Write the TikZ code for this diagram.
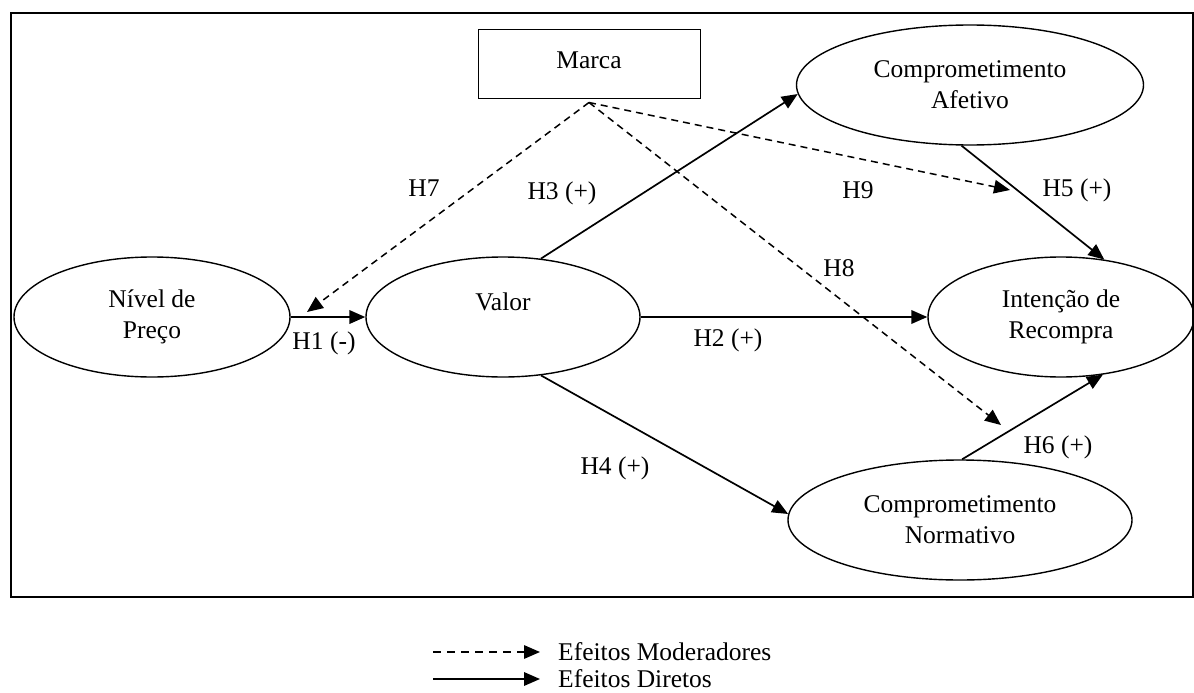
\documentclass[tikz,border=0pt]{standalone}
\usepackage{fontspec}
\setmainfont{Liberation Serif}
\usetikzlibrary{shapes.geometric,arrows.meta}
\begin{document}
\begin{tikzpicture}[x=1pt,y=-1pt,
  every node/.style={font=\fontsize{25.5}{31}\selectfont},
  oval/.style={draw, ellipse, line width=1.4pt, inner sep=0pt, align=center},
  lbl/.style={inner sep=0pt},
  tipstyle/.style={-{Triangle[length=16pt,width=13.5pt]}},
  direct/.style={tipstyle, line width=1.7pt},
  moder/.style={tipstyle, line width=1.5pt, dash pattern=on 7pt off 5pt},
]
\useasboundingbox (0,0) rectangle (1194,693);
\draw[line width=1.8pt] (11,13) rectangle (1193,597);

% nodes
\node[draw, line width=1pt, minimum width=222pt, minimum height=68pt, inner sep=0pt, text depth=8pt] (marca) at (589,64) {Marca};
\node[oval, minimum width=276pt, minimum height=120pt] (niv) at (152,317) {Nível de\\Preço};
\node[oval, minimum width=274pt, minimum height=120pt] (valor) at (503,317) {Valor\\\mbox{}};
\node[oval, minimum width=347pt, minimum height=120pt] (afe) at (970,85) {Comprometimento\\Afetivo};
\node[oval, minimum width=266pt, minimum height=120pt] (int) at (1061,317) {Intenção de\\Recompra};
\node[oval, minimum width=344pt, minimum height=120pt] (norm) at (960,520) {Comprometimento\\Normativo};

% direct effects
\draw[direct, line width=2.2pt] (niv.east) -- (valor.west);
\draw[direct, line width=2pt] (valor.east) -- (int.west);
\draw[direct] (valor.57) -- (afe.183);
\draw[direct] (valor.-57) -- (norm.178);
\draw[direct] (afe.262) -- (int.53);
\draw[direct] (norm.88) -- (int.-54);

% moderating effects
\coordinate (m0) at ([yshift=-4pt]marca.south);
\coordinate (h7e) at (307,312);
\coordinate (h8e) at (1001,425);
\coordinate (h9e) at (1010,190);
\draw[moder] (m0) -- (h7e);
\draw[moder] (m0) -- (h8e);
\draw[moder] (m0) -- (h9e);

% labels
\node[lbl] (l1) at (324,343) {H1 (-)};
\node[lbl] (l2) at (728,340) {H2 (+)};
\node[lbl] (l3) at (562,193) {H3 (+)};
\node[lbl] (l4) at (615,468) {H4 (+)};
\node[lbl] (l5) at (1077,190) {H5 (+)};
\node[lbl] (l6) at (1058,447) {H6 (+)};
\node[lbl] (l7) at (424,188) {H7};
\node[lbl] (l8) at (839,268) {H8};
\node[lbl] (l9) at (858,190) {H9};

% legend
\node[lbl, anchor=west] (leg1) at (558,652) {Efeitos Moderadores};
\node[lbl, anchor=west] (leg2) at (558,679) {Efeitos Diretos};
\coordinate (g1s) at (433,652);
\coordinate (g1e) at (540,652);
\coordinate (g2s) at (433,679);
\coordinate (g2e) at (540,679);
\draw[moder, dash pattern=on 8pt off 6pt] (g1s) -- (g1e);
\draw[direct] (g2s) -- (g2e);
\end{tikzpicture}
\end{document}
